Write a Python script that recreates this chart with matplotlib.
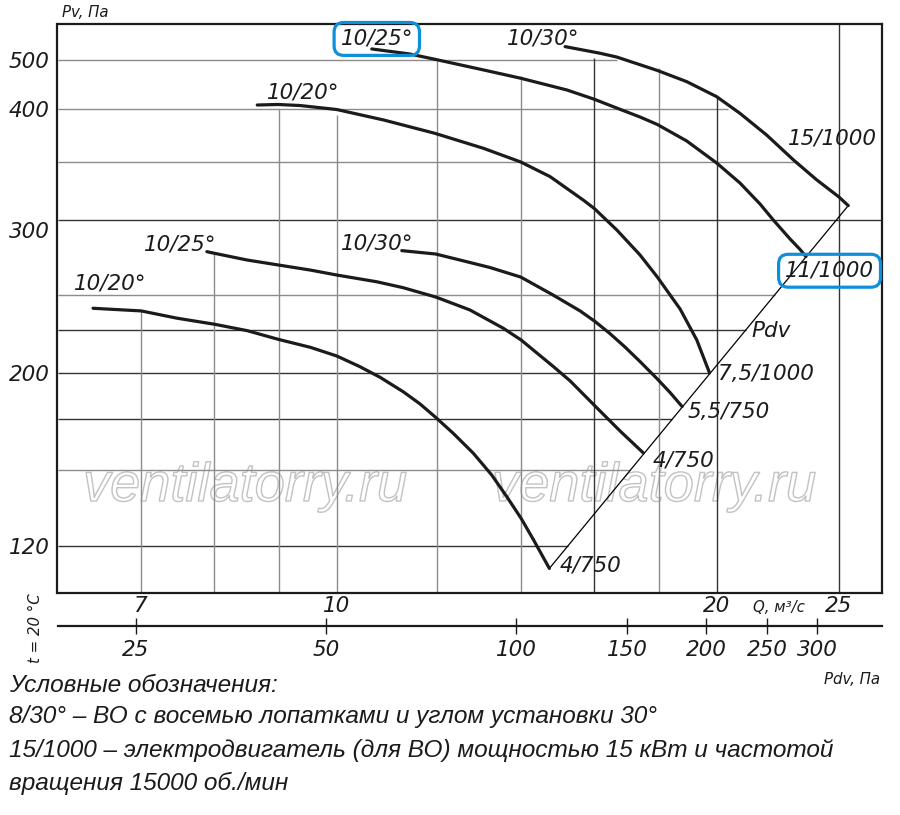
import numpy as np
import matplotlib
matplotlib.use('Agg')  # no display
import matplotlib.pyplot as plt
from matplotlib.ticker import NullLocator
from matplotlib import patheffects

# Pv axis of the original chart is not uniform: grid values and where they sit (fraction of axis height)
PV_GRID = [120, 150, 175, 200, 225, 250, 300, 350, 400, 500]
PV_GRID_FRAC = [0.0831, 0.2156, 0.3058, 0.3872, 0.4617, 0.5237, 0.6550, 0.7575, 0.8511, 0.9373]
PV_GRID_QEND = [15.25, 17.08, 18.45, 19.77, 21.09, 22.23, None, 23.21, 20.42, 16.68]
PV_GRID_DARK = [True, False, True, True, True, False, True, False, False, False]
PV_TICKS = [120, 200, 300, 400, 500]

Q_LIM = (6.008, 27.02)
Q_GRID = [7, 8, 9, 10, 12, 14, 16, 18, 20, 25]
Q_GRID_PVTOP = [238, 277, 400, 394, 498, 464, 504, 481, 422, None]
Q_GRID_DARK = [False, False, False, False, False, False, True, False, True, True]
Q_TICKS = [7, 10, 20, 25]

PDV_K = 0.52  # Pdv = k * Q^2
PDV_TICKS = [25, 50, 100, 150, 200, 250, 300]

# characteristic curves (Q, m3/s ; Pv, Pa)
q_20_low = [6.41, 7.00, 7.47, 8.00, 8.49, 8.99, 9.53, 10.0, 10.43, 10.82, 11.29, 11.64,
            11.98, 12.37, 12.83, 13.27, 13.64, 14.00, 14.32, 14.74]
pv_20_low = [240.3, 238.4, 233.3, 229.1, 224.8, 219.4, 214.6, 209.5, 203.4, 197.4, 189.3, 182.8,
             175.8, 167.6, 157.9, 147.9, 138.7, 130.1, 122.1, 112.2]

q_25_low = [7.89, 8.00, 8.49, 8.99, 9.53, 10.0, 10.76, 11.29, 11.98, 12.75, 13.55, 14.00,
            14.85, 15.31, 16.02, 16.77, 17.50]
pv_25_low = [277.9, 276.8, 272.3, 269.0, 265.7, 262.5, 258.2, 254.5, 248.5, 239.1, 226.4, 219.0,
             203.4, 195.3, 181.7, 168.8, 158.0]

q_30_low = [11.26, 11.98, 12.52, 13.22, 13.99, 14.84, 15.59, 16.02, 16.46, 16.92, 17.39,
            17.95, 18.37, 18.78]
pv_30_low = [278.6, 276.3, 272.3, 267.4, 261.2, 250.0, 238.4, 231.0, 223.0, 214.8, 206.3,
             196.4, 188.9, 181.4]

q_20_up = [8.65, 8.98, 9.35, 10.0, 10.89, 11.96, 13.07, 13.99, 14.76, 15.68, 16.00, 16.67,
           17.39, 17.95, 18.71, 19.29, 19.74]
pv_20_up = [406.8, 407.8, 405.9, 399.2, 388.9, 376.1, 362.2, 350.0, 336.7, 316.5, 309.5, 293.0,
            275.7, 261.2, 239.8, 219.0, 200.0]

q_25_up = [10.66, 11.43, 11.96, 13.07, 13.99, 15.22, 16.00, 16.67, 17.39, 17.95, 18.94, 20.00,
           20.87, 21.65, 22.19, 22.87, 23.29, 23.54]
pv_25_up = [525.0, 513.0, 500.9, 477.2, 459.5, 435.6, 417.6, 401.2, 391.8, 384.5, 368.9, 349.1,
            331.1, 313.2, 300.0, 286.6, 279.4, 274.6]

q_30_up = [15.17, 16.17, 16.67, 17.95, 18.94, 20.00, 20.87, 21.91, 23.01, 24.01, 25.00, 25.43]
pv_30_up = [530.6, 514.8, 506.0, 476.1, 452.4, 422.6, 395.4, 374.5, 351.8, 333.8, 319.1, 311.9]

pdv_line_q = [14.74, 25.43]
pdv_line_pv = [112.2, 311.9]

LEGEND_LINES = [
    'Условные обозначения:',
    '8/30° – ВО с восемью лопатками и углом установки 30°',
    '15/1000 – электродвигатель (для ВО) мощностью 15 кВт и частотой',
    'вращения 15000 об./мин',
]

W, H = 900, 815
CURVE_COLOR = '#1b1b1b'
BLUE = '#0d8fdc'


def _interp_ext(x, xp, fp):
    x = np.asarray(x, dtype=float)
    y = np.interp(x, xp, fp)
    s0 = (fp[1] - fp[0]) / (xp[1] - xp[0])
    s1 = (fp[-1] - fp[-2]) / (xp[-1] - xp[-2])
    y = np.where(x < xp[0], fp[0] + (x - xp[0]) * s0, y)
    y = np.where(x > xp[-1], fp[-1] + (x - xp[-1]) * s1, y)
    return y


LN_GRID = np.log(PV_GRID)


def pv_fwd(v):
    return _interp_ext(np.log(np.clip(v, 1e-6, None)), LN_GRID, PV_GRID_FRAC)


def pv_inv(f):
    return np.exp(_interp_ext(f, PV_GRID_FRAC, LN_GRID))


def fig_xy(x_px, y_px):
    return x_px / W, 1 - y_px / H


fig = plt.figure(figsize=(9, 8.15), dpi=100)
ax = fig.add_axes([57.5 / W, 1 - 593 / H, 824 / W, 569 / H])
ax.set_xscale('log')
ax.set_yscale('function', functions=(pv_fwd, pv_inv))
ax.set_xlim(*Q_LIM)
y_bot = float(pv_inv(0.0))
y_top = float(pv_inv(1.0))
ax.set_ylim(y_bot, y_top)

# grid (cut off where the original drawing stops it)
for v, qend, dark in zip(PV_GRID, PV_GRID_QEND, PV_GRID_DARK):
    ax.hlines(v, Q_LIM[0], qend if qend else Q_LIM[1],
              color='#333333' if dark else '#8c8c8c', lw=1.0, zorder=1)
for q, top, dark in zip(Q_GRID, Q_GRID_PVTOP, Q_GRID_DARK):
    ax.vlines(q, y_bot, top if top else y_top,
              color='#333333' if dark else '#8c8c8c', lw=1.0, zorder=1)

# watermark
for xw in (245, 654):
    ax.text(*fig_xy(xw, 501), 'ventilatorry.ru', transform=fig.transFigure,
            ha='center', va='baseline', fontsize=39, style='italic',
            family=['Liberation Sans', 'DejaVu Sans'], color='white', zorder=0.5,
            path_effects=[patheffects.Stroke(linewidth=1.0, foreground='#c2c2c2')])

# curves
for q, pv in [(q_20_low, pv_20_low), (q_25_low, pv_25_low), (q_30_low, pv_30_low),
              (q_20_up, pv_20_up), (q_25_up, pv_25_up), (q_30_up, pv_30_up)]:
    ax.plot(q, pv, color=CURVE_COLOR, lw=2.3, solid_capstyle='round',
            solid_joinstyle='round', zorder=3)
ax.plot(pdv_line_q, pdv_line_pv, color='black', lw=0.9, zorder=2)

lab = dict(fontsize=15.5, style='italic', color='#1b1b1b', ha='left', va='baseline', zorder=4)
box = dict(boxstyle='round,pad=0.3,rounding_size=0.45', fc='none', ec=BLUE, lw=2.3)
ax.text(6.19, 253.1, '10/20°', **lab)
ax.text(7.03, 278.6, '10/25°', **lab)
ax.text(10.07, 279.1, '10/30°', **lab)
ax.text(8.80, 418.7, '10/20°', **lab)
ax.text(10.07, 534.7, '10/25°', bbox=box, **lab)
ax.text(13.63, 534.7, '10/30°', **lab)
ax.text(22.80, 365.3, '15/1000', **lab)
ax.text(22.66, 261.4, '11/1000', bbox=box, **lab)
ax.text(21.32, 220.6, 'Pdv', **lab)
ax.text(20.06, 195.8, '7,5/1000', **lab)
ax.text(18.96, 175.3, '5,5/750', **lab)
ax.text(17.79, 151.7, '4/750', **lab)
ax.text(15.03, 111.1, '4/750', **lab)

# axes styling
for s in ax.spines.values():
    s.set_linewidth(1.6)
    s.set_color('#1b1b1b')
tick_font = dict(fontsize=15.5, style='italic', color='#1b1b1b')
ax.set_yticks(PV_TICKS, labels=[str(v) for v in PV_TICKS], **tick_font)
ax.set_xticks(Q_TICKS, labels=[str(v) for v in Q_TICKS], **tick_font)
ax.xaxis.set_minor_locator(NullLocator())
ax.yaxis.set_minor_locator(NullLocator())
ax.tick_params(axis='both', length=0)
ax.tick_params(axis='y', pad=5.5)
ax.tick_params(axis='x', pad=2)
for t in ax.get_yticklabels():
    if t.get_text() == '300':  # printed a little below its grid line on the original
        t.set_transform(t.get_transform() + matplotlib.transforms.ScaledTranslation(0, -0.1, fig.dpi_scale_trans))

# Pdv scale below
sec = ax.secondary_xaxis(-32.5 / 569, functions=(lambda q: PDV_K * np.square(q),
                                                  lambda p: np.sqrt(np.clip(p, 0, None) / PDV_K)))
sec.set_xticks(PDV_TICKS, labels=[str(v) for v in PDV_TICKS], **tick_font)
sec.xaxis.set_minor_locator(NullLocator())
sec.tick_params(axis='x', direction='inout', length=11, width=1, pad=5, color='#1b1b1b')
sec.spines['bottom'].set_linewidth(1.6)
sec.spines['bottom'].set_color('#1b1b1b')

small = dict(fontsize=10.8, style='italic', color='#1b1b1b', ha='center', va='center')
fig.text(*fig_xy(85.5, 12.5), 'Pv, Па', **small)
fig.text(*fig_xy(779, 607.5), 'Q, м³/с', **small)
fig.text(*fig_xy(852, 679), 'Pdv, Па', **small)
fig.text(*fig_xy(35, 628), 't = 20 °C', rotation=90, **small)

for line, base in zip(LEGEND_LINES, [691.7, 723.3, 756.7, 790]):
    fig.text(*fig_xy(9, base), line, ha='left', va='baseline', fontsize=17.6, style='italic',
             family=['Liberation Sans', 'DejaVu Sans'], color='#1b1b1b')

fig.savefig('out.png', dpi=100, facecolor='white')
plt.close(fig)
